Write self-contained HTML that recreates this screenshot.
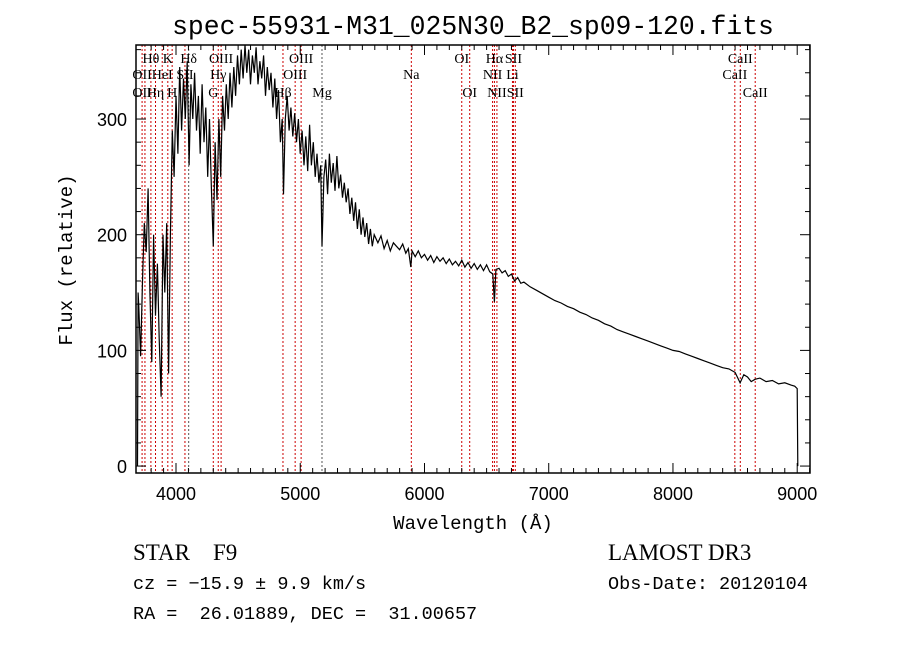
<!DOCTYPE html>
<html><head><meta charset="utf-8">
<style>
html,body{margin:0;padding:0;background:#fff;}
svg{display:block;}
text{font-family:"Liberation Mono",monospace;fill:#000;white-space:pre;}
</style></head>
<body>
<svg id="chart" width="900" height="649" viewBox="0 0 900 649" xmlns="http://www.w3.org/2000/svg" xml:space="preserve">
<rect width="900" height="649" fill="#fff"/>
<text x="473" y="34" font-size="26.4" text-anchor="middle">spec-55931-M31_025N30_B2_sp09-120.fits</text>
<g id="lines"></g>
<g id="series"></g>
<g id="axes"></g>
<text x="473" y="529" font-size="19" text-anchor="middle">Wavelength (Å)</text>
<text transform="translate(72,260) rotate(-90)" font-size="19" text-anchor="middle">Flux (relative)</text>
<text x="133" y="560" font-size="23" style="font-family:'Liberation Serif',serif">STAR    F9</text>
<text x="608" y="560" font-size="23" style="font-family:'Liberation Serif',serif">LAMOST DR3</text>
<text x="133" y="589" font-size="18.5">cz = −15.9 ± 9.9 km/s</text>
<text x="608" y="589" font-size="18.5">Obs-Date: 20120104</text>
<text x="133" y="619" font-size="18.5">RA =  26.01889, DEC =  31.00657</text>
</svg>
<script>
// spectrum samples: [wavelength (Å), relative flux]
const blueSpectrum = [[3690,0],[3695,150],[3700,140],[3715,95],[3730,160],[3745,210],[3760,185],[3775,240],[3790,150],[3805,90],[3820,200],[3835,130],[3850,175],[3865,110],[3880,60],[3895,200],[3910,150],[3925,210],[3940,80],[3955,200],[3970,290],[3985,250],[4000,320],[4015,270],[4030,345],[4045,290],[4060,335],[4075,300],[4090,350],[4105,260],[4120,330],[4135,300],[4150,340],[4165,290],[4180,320],[4195,270],[4210,330],[4225,280],[4240,310],[4255,250],[4270,300],[4285,240],[4300,190],[4315,280],[4330,230],[4345,300],[4360,250],[4375,320],[4390,290],[4405,330],[4420,300],[4435,340],[4450,310],[4465,345],[4480,320],[4495,355],[4510,330],[4525,360],[4540,335],[4555,364],[4570,340],[4585,360],[4600,330],[4615,355],[4630,340],[4645,362],[4660,330],[4675,350],[4690,335],[4705,355],[4720,320],[4735,345],[4750,325],[4765,340],[4780,310],[4795,335],[4810,300],[4825,325],[4840,280],[4855,300],[4865,235],[4880,300],[4895,320],[4910,290],[4925,310],[4940,285],[4955,305],[4970,280],[4985,300],[5000,270],[5015,290],[5030,260],[5045,285],[5060,255],[5075,295],[5090,260],[5105,280],[5120,250],[5135,270],[5150,245],[5165,260],[5175,190],[5190,250],[5205,265],[5220,235],[5235,270],[5250,245],[5265,262],[5280,238],[5295,268],[5310,240],[5325,252],[5340,232],[5355,245],[5370,228],[5385,240],[5400,218],[5415,232],[5430,212],[5445,228],[5460,205],[5475,222],[5490,200],[5505,215],[5520,198],[5535,210],[5550,192],[5565,205],[5580,190],[5595,200]];
const redSpectrum = [[5625,193],[5650,199],[5675,188],[5700,195],[5725,186],[5750,193],[5775,190],[5800,187],[5825,192],[5850,184],[5870,188],[5890,172],[5900,186],[5925,181],[5950,186],[5975,180],[6000,183],[6025,178],[6050,182],[6075,176],[6100,181],[6125,177],[6150,180],[6175,175],[6200,179],[6225,174],[6250,177],[6275,173],[6300,178],[6325,172],[6350,176],[6375,171],[6400,175],[6425,170],[6450,174],[6475,169],[6500,174],[6525,168],[6550,166],[6563,142],[6575,170],[6600,171],[6625,167],[6650,169],[6675,164],[6700,166],[6725,160],[6750,163],[6775,158],[6800,159],[6850,155],[6900,152],[6950,149],[7000,146],[7050,143],[7100,141],[7150,138],[7200,136],[7250,133],[7300,131],[7350,128],[7400,126],[7450,123],[7500,121],[7550,118],[7600,116],[7650,114],[7700,112],[7750,110],[7800,108],[7850,106],[7900,104],[7950,102],[8000,100],[8050,99],[8100,97],[8150,95],[8200,93],[8250,91],[8300,89],[8350,87],[8400,85],[8450,84],[8500,81],[8540,72],[8570,79],[8600,77],[8630,73],[8660,75],[8700,76],[8750,73],[8800,74],[8850,71],[8900,72],[8950,70],[8980,69],[9000,67],[9005,0]];
const lineWaves = [3727,3750,3798,3835,3889,3934,3969,4072,4102,4300,4340,4363,4861,4959,5007,5175,5894,6300,6364,6548,6563,6583,6708,6716,6731,8498,8542,8662];
const labelText = [["OII",3727,1],["OII",3727,0],["Hθ",3798,2],["K",3934,2],["HeI",3889,1],["Hη",3835,0],["H",3969,0],["SII",4072,1],["Hδ",4102,2],["OIII",4363,2],["Hγ",4340,1],["G",4300,0],["OIII",5007,2],["OIII",4959,1],["Hβ",4861,0],["Mg",5175,0],["Na",5894,1],["OI",6300,2],["OI",6364,0],["Hα",6563,2],["SII",6716,2],["NII",6548,1],["Li",6708,1],["NII",6583,0],["SII",6731,0],["CaII",8542,2],["CaII",8498,1],["CaII",8662,0]];
const xTicks = [4000,5000,6000,7000,8000,9000];
const yTicks = [0,100,200,300];

const X0=136,X1=810,Y0=45,Y1=473, WMIN=3678, WMAX=9103, FMIN=-6, FMAX=364;
const NS="http://www.w3.org/2000/svg";
function sx(w){return X0+(w-WMIN)/(WMAX-WMIN)*(X1-X0);}
function sy(f){return Y1-(f-FMIN)/(FMAX-FMIN)*(Y1-Y0);}
function mk(tag,attrs,parent){const e=document.createElementNS(NS,tag);for(const k in attrs)e.setAttribute(k,attrs[k]);parent.appendChild(e);return e;}

const gL=document.getElementById('lines');
lineWaves.forEach(w=>{
  const l=mk('line',{x1:sx(w),x2:sx(w),y1:Y0,y2:Y1,stroke:(w===4102||w===5175)?'#555':'#c00','stroke-width':1,'stroke-dasharray':'2,2'},gL);
  
  
});
labelText.forEach(t=>{
  const e=mk('text',{x:sx(t[1]),'font-size':14,'text-anchor':'middle',style:"font-family:'Liberation Serif',serif"},gL);
  e.setAttribute('y', t[2]===2?63:(t[2]===1?79:97));
  e.textContent=t[0];
  
  
});

const gS=document.getElementById('series');
const allPts=blueSpectrum.concat(redSpectrum);
let d='';
allPts.forEach((pt,i)=>{d+=(i?'L':'M')+sx(pt[0]).toFixed(1)+','+Math.max(Y0,sy(pt[1])).toFixed(1);});
const p=mk('path',{d:d,fill:'none',stroke:'#000','stroke-width':1.2},gS);



const gA=document.getElementById('axes');
const fr=mk('rect',{x:X0,y:Y0,width:X1-X0,height:Y1-Y0,fill:'none',stroke:'#000','stroke-width':1.5},gA);


for(let w=3800;w<=9100;w+=100){
  const big=w%1000===0, len=big?10:5;
  mk('line',{x1:sx(w),x2:sx(w),y1:Y1,y2:Y1-len,stroke:'#000'},gA);
  mk('line',{x1:sx(w),x2:sx(w),y1:Y0,y2:Y0+len,stroke:'#000'},gA);
}
for(let f=0;f<=360;f+=20){
  const big=f%100===0, len=big?10:5;
  mk('line',{x1:X0,x2:X0+len,y1:sy(f),y2:sy(f),stroke:'#000'},gA);
  mk('line',{x1:X1,x2:X1-len,y1:sy(f),y2:sy(f),stroke:'#000'},gA);
}
xTicks.forEach(w=>{
  const t=mk('text',{x:sx(w),y:500,'font-size':18,'text-anchor':'middle',style:"font-family:'Liberation Sans',sans-serif"},gA);
  t.textContent=w;
  
  
});
yTicks.forEach(f=>{
  const t=mk('text',{x:127,y:sy(f)+7,'font-size':18,'text-anchor':'end',style:"font-family:'Liberation Sans',sans-serif"},gA);
  t.textContent=f;
  
  
});
</script>
</body></html>
